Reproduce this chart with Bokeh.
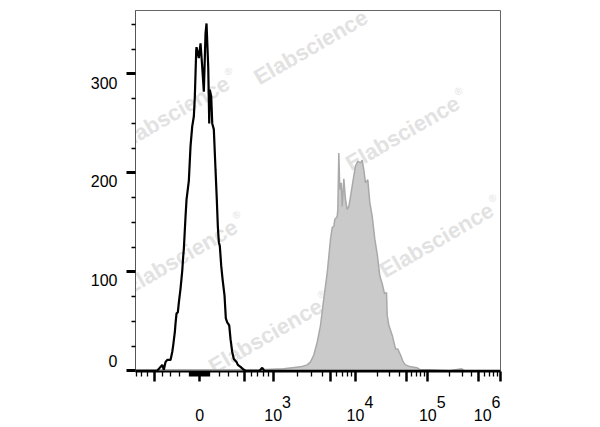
import numpy as np
from bokeh.plotting import figure
from bokeh.models import Range1d, FixedTicker, Label
from bokeh.embed import file_html
from bokeh.resources import INLINE

# ---------------- data (display channel of the biexponential axis, event count) ----------------
black_channel = [-63.7, -42.5, -39.2, -37.5, -35.9, -34.2, -32.5, -29.2, -27.5, -26.5, -24.9, -24.2,
                 -23.2, -21.9, -20.9, -19.2, -17.5, -16.5, -15.9, -14.2, -13.2, -10.9, -9.2, -7.5,
                 -5.9, -4.9, -3.5, -3.2, -0.9, 0.8, 2.5, 4.1, 5.8, 6.8, 8.5, 9.5, 10.1, 11.5, 12.5,
                 14.1, 15.8, 17.0, 18.1, 19.1, 20.1, 21.5, 22.8, 24.8, 26.1, 27.5, 29.5, 30.8, 32.5,
                 34.1, 36.8, 38.1, 40.8, 44.1, 45.8, 59.8, 62.5, 64.8, 300.8]
black_count = [0, 0, 4, 6, 1, 9, 11, 11, 19, 26, 39, 48,
               58, 59, 69, 83, 101, 116, 123, 156, 173, 192, 227, 247,
               257, 277, 324, 327, 316, 331, 307, 282, 341, 351, 307, 250, 284, 277, 250,
               244, 203, 175, 146, 130, 126, 106, 93, 76, 53, 49, 46, 32, 19,
               12, 9, 6, 4, 1, 0, 0, 3, 0, 0]

gray_channel = [-63.7, 60, 84, 100.8, 107.5, 110.8, 114.1, 117.5, 120.8, 124.1, 127.5, 130.8, 132.5,
                134.1, 135.1, 137.5, 138.1, 139.1, 140.1, 141.5, 142.5, 144.1, 145.8, 147.5, 149.1,
                150.8, 152.5, 154.1, 155.8, 158.1, 160.8, 162.5, 164.1, 165.8, 168.1, 170.1, 172.5,
                175.1, 177.5, 180.1, 182.5, 184.8, 186.8, 187.5, 189.1, 192.5, 195.8, 198.1, 200.8,
                203.5, 205.8, 210.8, 217.5, 220.8, 230, 250, 262, 265, 300.8]
gray_count = [1, 1, 2, 4, 6, 9, 16, 29, 46, 73, 99, 133, 145,
              146, 153, 156, 163, 220, 183, 190, 166, 194, 173, 163, 166,
              176, 187, 197, 207, 212, 210, 213, 203, 190, 193, 170, 156,
              133, 118, 96, 88, 78, 79, 56, 46, 36, 22, 22, 16,
              9, 6, 4, 3, 1, 1, 0, 2, 0, 0]

# ---------------- axis definition ----------------
axis_values = [0, 500, 1000, 1e4, 1e5, 1e6]
axis_display = [0, 45.1, 73.5, 155.8, 228.1, 300.8]
biex_width = 480.0
x_low_value = -810
x_major_values = [0, 1e3, 1e4, 1e5, 1e6]
x_major_labels = ["0", "10", "10", "10", "10"]
x_exponents = ["", "3", "4", "5", "6"]
x_medium_values = [-500, 500, 5e3, 5e4, 5e5]
x_minor_values = ([s * k for s in (-1, 1) for k in range(10, 100, 10)] +
                  [s * k for s in (-1, 1) for k in (100, 200, 300, 400, 600, 700, 800, 900)] +
                  [m * d for d in (1e3, 1e4, 1e5) for m in (2, 3, 4, 6, 7, 8, 9)])
y_major = [0, 100, 200, 300]
y_minor = [25, 50, 75, 125, 150, 175, 225, 250, 275, 325, 350]
y_range_limits = (-0.7, 364.1)

watermark_text = "Elabscience"
watermark_mark = "®"
watermark_spots = [(-27.2, 260), (111.0, 327), (202.8, 240), (-19.2, 115), (236.8, 132), (65.8, 35)]


def biex(v):
    v = np.asarray(v, dtype=float)
    u = np.arcsinh(np.abs(v) / biex_width)
    ua = np.arcsinh(np.asarray(axis_values, dtype=float) / biex_width)
    return np.round(np.sign(v) * np.interp(u, ua, axis_display), 4)


FONT = "Liberation Sans"
FS = "\u2007"  # figure space (digit-wide blank) used to place the exponent line

p = figure(width=600, height=427, output_backend="svg", toolbar_location=None,
           x_range=Range1d(float(biex(x_low_value)), float(biex(1e6))),
           y_range=Range1d(*y_range_limits),
           min_border_left=135, min_border_right=100, min_border_top=10, min_border_bottom=54)
p.xgrid.visible = False
p.ygrid.visible = False
p.outline_line_color = "#666666"
p.outline_line_width = 1
p.background_fill_color = "white"
p.border_fill_color = "white"

# watermarks (behind the data)
WM_COLOR = "#e2e2e2"
for wx, wy in watermark_spots:
    p.add_layout(Label(x=wx, y=wy, text=watermark_text, angle=30, angle_units="deg",
                       text_align="center", text_baseline="middle", text_font=FONT,
                       text_font_style="bold", text_font_size="22px", text_color=WM_COLOR,
                       level="underlay"))
    p.add_layout(Label(x=wx + 56.0, y=wy + 42.5, text=watermark_mark, angle=30, angle_units="deg",
                       text_align="center", text_baseline="middle", text_font=FONT,
                       text_font_size="10px", text_color=WM_COLOR, level="underlay"))

# histograms
p.varea(x=gray_channel, y1=0, y2=gray_count, fill_color="#cacaca")
p.line(x=gray_channel, y=gray_count, line_color="#a9a9a9", line_width=1.5)
p.line(x=black_channel, y=black_count, line_color="black", line_width=2.2)

# x axis: ticks on the biexponential display scale, labels "10" with the exponent above-right
x_major_pos = biex(x_major_values).tolist()
x_medium_pos = biex(x_medium_values).tolist()
overrides = {}
for pos, base, ex in zip(x_major_pos, x_major_labels, x_exponents):
    if ex == "":
        overrides[pos] = FS + "\n" + base
    elif pos == x_major_pos[-1]:
        overrides[pos] = ex + FS + "\n" + base + FS * 4
    else:
        overrides[pos] = FS * 3 + ex + "\n" + base
for pos in x_medium_pos:
    overrides[pos] = ""

xa = p.xaxis[0]
xa.ticker = FixedTicker(ticks=sorted(x_major_pos + x_medium_pos),
                        minor_ticks=sorted(biex(x_minor_values).tolist()))
xa.major_label_overrides = overrides
xa.major_label_text_font = FONT
xa.major_label_text_font_size = "16px"
xa.major_label_text_color = "black"
xa.major_label_text_line_height = 0.8
xa.major_label_standoff = 12
xa.axis_line_color = "black"
xa.axis_line_width = 2
xa.major_tick_line_color = "black"
xa.major_tick_line_width = 2.5
xa.major_tick_out = 10
xa.major_tick_in = 0
xa.minor_tick_line_color = "black"
xa.minor_tick_line_width = 1.3
xa.minor_tick_out = 5
xa.minor_tick_in = 0

# y axis
ya = p.yaxis[0]
ya.ticker = FixedTicker(ticks=y_major, minor_ticks=y_minor)
y_overrides = {}
for v in y_major:
    y_overrides[v] = (str(v) + "\n" + FS) if v == 0 else (FS + "\n" + str(v))
ya.major_label_overrides = y_overrides
ya.major_label_text_font = FONT
ya.major_label_text_font_size = "16px"
ya.major_label_text_color = "black"
ya.major_label_text_line_height = 1.07
ya.major_label_standoff = 9
ya.axis_line_color = "#555555"
ya.axis_line_width = 1
ya.major_tick_line_color = "black"
ya.major_tick_line_width = 3
ya.major_tick_out = 9
ya.major_tick_in = 0
ya.minor_tick_line_color = "black"
ya.minor_tick_line_width = 1.3
ya.minor_tick_out = 4
ya.minor_tick_in = 0

open("out.html", "w").write(file_html(p, INLINE))
